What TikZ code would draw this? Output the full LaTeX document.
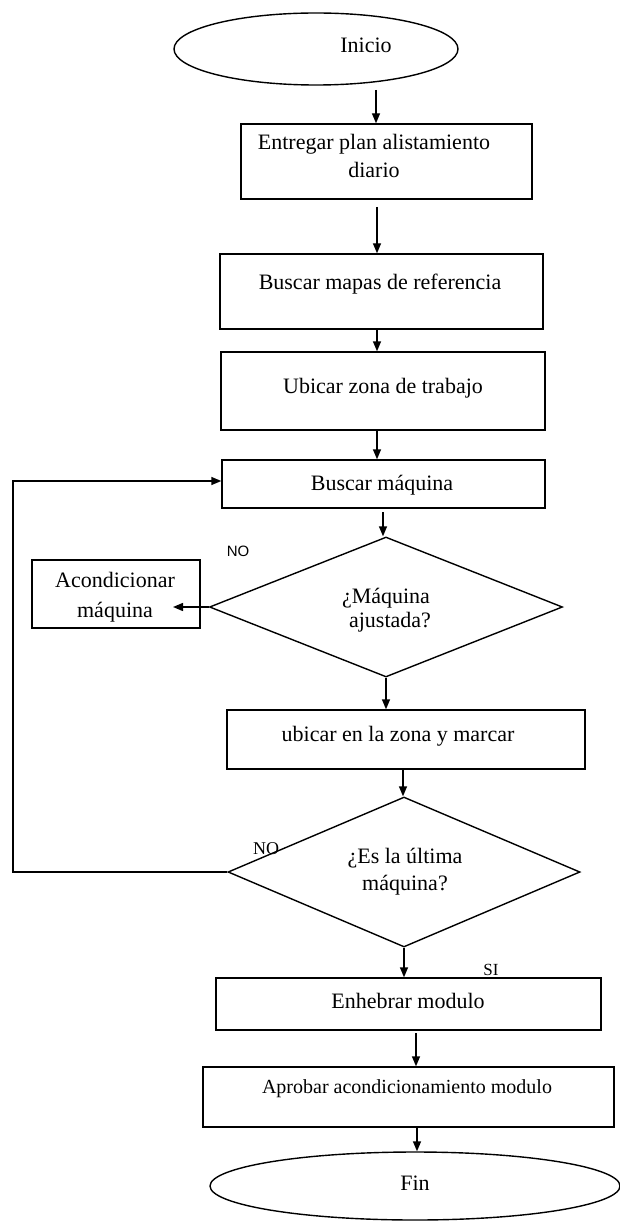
\documentclass[tikz,border=0pt]{standalone}
\usepackage{fontspec}
\setmainfont{Liberation Serif}
\newfontfamily\sansf{Liberation Sans}
\usetikzlibrary{shapes.geometric,arrows.meta}
\begin{document}
\begin{tikzpicture}[x=1pt,y=-1pt,
  line width=1.4pt,
  box/.style={draw, rectangle, inner sep=0pt},
  oval/.style={draw, ellipse, inner sep=0pt},
  dia/.style={draw, diamond, inner sep=0pt},
  txt/.style={anchor=base, inner sep=0pt, font=\fontsize{22}{27}\selectfont},
  arr/.style={-{Triangle[length=10pt,width=8pt]}},
]
\useasboundingbox (0,0) rectangle (619,1222);

% shapes
\node[oval, minimum width=284pt, minimum height=72pt] (ini) at (316,49) {};
\node[box, minimum width=291pt, minimum height=75pt] (b1) at (386.5,161.5) {};
\node[box, minimum width=323pt, minimum height=75pt] (b2) at (381.5,291.5) {};
\node[box, minimum width=324pt, minimum height=78pt] (b3) at (383,391) {};
\node[box, minimum width=323pt, minimum height=48pt] (b4) at (383.5,484) {};
\node[dia, minimum width=353pt, minimum height=140pt] (d1) at (386,607) {};
\node[box, minimum width=168pt, minimum height=68pt] (ac) at (116,594) {};
\node[box, minimum width=358pt, minimum height=59pt] (b5) at (406,739.5) {};
\node[dia, minimum width=352pt, minimum height=150pt] (d2) at (404,872) {};
\node[box, minimum width=385pt, minimum height=52pt] (b6) at (408.5,1004) {};
\node[box, minimum width=411pt, minimum height=60pt] (b7) at (408.5,1097) {};
\node[oval, minimum width=410pt, minimum height=68pt] (fin) at (415,1186) {};

% texts
\node[txt] (tini) at (366,53) {Inicio};
\node[txt] (t1a) at (374,150) {Entregar plan alistamiento};
\node[txt] (t1b) at (374,178) {diario};
\node[txt] (t2) at (380,290) {Buscar mapas de referencia};
\node[txt] (t3) at (383,393) {Ubicar zona de trabajo};
\node[txt] (t4) at (382,490) {Buscar máquina};
\node[txt] (td1a) at (386,603) {¿Máquina};
\node[txt] (td1b) at (390,627) {ajustada?};
\node[txt] (tac1) at (115,587) {Acondicionar};
\node[txt] (tac2) at (115,617) {máquina};
\node[txt] (t5) at (398,741) {ubicar en la zona y marcar};
\node[txt] (td2a) at (405,863) {¿Es la última};
\node[txt] (td2b) at (405,890) {máquina?};
\node[txt] (t6) at (408,1008) {Enhebrar modulo};
\node[txt, font=\fontsize{20}{24}\selectfont] (t7) at (407,1093) {Aprobar acondicionamiento modulo};
\node[txt] (tfin) at (415,1190) {Fin};

\node[anchor=base, inner sep=0pt, font=\sansf\fontsize{15}{18}\selectfont] (no1) at (238,556) {NO};
\node[anchor=base, inner sep=0pt, font=\fontsize{18}{21}\selectfont] (no2) at (266,854) {NO};
\node[anchor=base, inner sep=0pt, font=\fontsize{17}{20}\selectfont] (si) at (491,975) {SI};

% connector start points
\coordinate (s1) at (376,90);
\coordinate (s2) at (377,207);
\coordinate (s3) at (377,329);
\coordinate (s4) at (377,430);
\coordinate (s5) at (383,512);
\coordinate (s7) at (403,769);
\coordinate (s9) at (416,1033);
\coordinate (s10) at (417,1127);
\coordinate (lp) at (13,481);
\coordinate (acend) at (173,604);

% connectors
\draw[arr] (s1) -- (s1 |- b1.north);
\draw[arr] (s2) -- (s2 |- b2.north);
\draw[arr] (s3) -- (s3 |- b3.north);
\draw[arr] (s4) -- (s4 |- b4.north);
\draw[arr] (s5) -- (s5 |- d1.north);
\draw[arr] (d1.west) -- (d1.west -| acend);
\draw[arr] (d1.south) -- (d1.south |- b5.north);
\draw[arr] (s7) -- (s7 |- d2.north);
\draw[arr] (d2.west) -| (lp) -- (lp -| b4.west);
\draw[arr] (d2.south) -- (d2.south |- b6.north);
\draw[arr] (s9) -- (s9 |- b7.north);
\draw[arr] (s10) -- (s10 |- fin.north);
\end{tikzpicture}
\end{document}
